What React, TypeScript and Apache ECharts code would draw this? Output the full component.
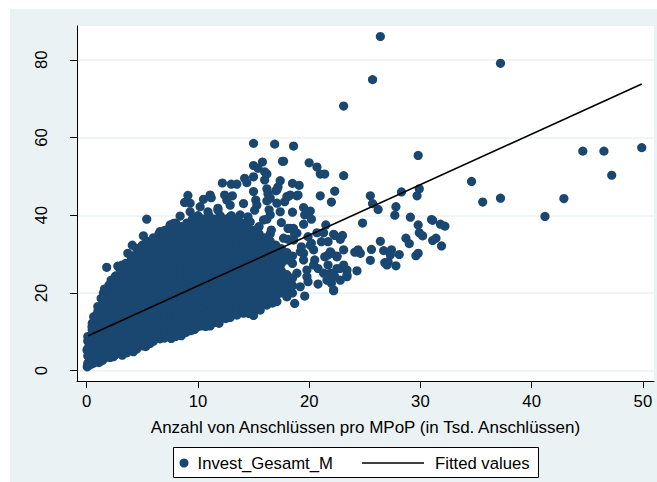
import React, { useEffect, useRef } from "react";
import * as echarts from "echarts";

const xTicks = [0, 10, 20, 30, 40, 50];
const yTicks = [0, 20, 40, 60, 80];
const xTitle = "Anzahl von Anschlüssen pro MPoP (in Tsd. Anschlüssen)";
const scatterName = "Invest_Gesamt_M";
const lineName = "Fitted values";

const fitted = [[0.14, 9.0], [49.9, 73.8]];

const outliers = [
  [26.4, 86.0], [37.2, 79.1], [25.7, 74.9], [23.1, 68.1], [29.8, 55.4], [23.1, 50.2], [34.6, 48.7], [35.6, 43.4],
  [37.2, 44.4], [41.2, 39.7], [42.9, 44.3], [44.6, 56.5], [46.5, 56.5], [47.2, 50.3], [49.9, 57.4],
];

const sparseRight = [
  [22.3, 46.2], [22.0, 43.4], [25.5, 45.0], [25.7, 43.0], [26.2, 41.5], [28.3, 46.0], [29.9, 46.8], [29.7, 45.0],
  [27.8, 42.2], [27.7, 40.0], [29.1, 39.5], [29.8, 37.5], [31.0, 38.9], [31.1, 38.7], [31.8, 37.7], [32.2, 37.2],
  [24.8, 38.0], [29.9, 35.5], [30.2, 34.7], [28.7, 34.1], [29.0, 32.7], [31.4, 34.1], [31.1, 33.5], [31.9, 32.1],
  [26.4, 33.3], [22.3, 34.8], [23.0, 34.8], [22.8, 33.8], [23.1, 31.1], [24.1, 30.5], [24.4, 31.1], [24.6, 30.2],
  [25.6, 31.2], [26.7, 30.9], [27.4, 31.1], [27.3, 29.8], [28.1, 29.9], [29.8, 30.2], [29.6, 29.6], [25.5, 28.4],
  [26.8, 27.8], [27.1, 28.0], [27.0, 27.2], [27.8, 27.0], [24.3, 25.7], [23.4, 25.9], [23.4, 24.2], [23.1, 27.2],
  [22.8, 26.3], [22.5, 29.5], [22.0, 30.2], [22.2, 20.6], [22.0, 22.5], [22.3, 24.2], [21.9, 25.1],
];

const sparseUpper = [
  [17.6, 53.9], [20.0, 53.5], [20.7, 52.4], [21.0, 50.6], [21.4, 50.6], [17.4, 48.9], [18.5, 48.2], [19.1, 47.7],
  [17.1, 46.5], [18.0, 44.8], [18.3, 45.2], [18.9, 45.0], [21.0, 45.0], [17.8, 43.5], [17.1, 43.1], [18.5, 40.8],
  [19.5, 42.0], [20.1, 41.1], [19.6, 40.1], [20.2, 39.0], [19.5, 37.7], [17.4, 40.9], [17.5, 38.1], [21.5, 37.5],
  [18.3, 36.6], [18.6, 36.6], [18.7, 35.2], [20.7, 35.5], [21.3, 35.5], [22.2, 35.1], [17.7, 34.1], [18.1, 33.8],
  [19.9, 34.5], [20.2, 32.8], [21.1, 33.2], [21.7, 33.2], [19.3, 31.9], [19.5, 30.2], [20.4, 31.1], [21.9, 30.6],
  [21.4, 29.3], [20.8, 22.3], [18.7, 17.3], [19.6, 19.2], [22.2, 20.8], [19.2, 21.6], [19.9, 22.9], [21.6, 23.3],
  [22.8, 23.3], [23.4, 24.6], [21.7, 29.8], [22.5, 29.3], [21.7, 27.2], [22.5, 26.3], [20.4, 27.2], [20.8, 26.3],
  [19.8, 24.2], [20.5, 28.5], [21.3, 25.1], [22.2, 25.1], [19.2, 30.6], [20.1, 32.3], [19.5, 28.5], [19.8, 25.9],
  [18.9, 25.1],
];

const peaks = [
  [15.0, 58.5], [16.9, 58.3], [18.6, 57.8], [17.7, 53.9], [15.8, 53.7], [15.0, 52.8], [15.4, 52.1], [16.0, 51.2],
  [16.2, 50.6], [16.0, 49.1], [15.0, 49.9], [14.2, 49.5], [14.4, 48.4], [12.2, 48.3], [13.0, 48.0], [13.5, 48.0],
  [15.0, 46.1], [17.2, 47.3], [17.0, 46.3], [16.2, 46.8], [16.3, 45.5], [16.5, 44.4], [16.2, 43.7], [15.2, 43.9],
  [15.3, 42.6], [15.1, 41.3], [19.0, 45.2], [18.1, 44.8], [16.4, 41.4], [16.5, 40.1], [12.4, 45.2], [13.1, 45.0],
  [12.6, 43.9], [12.9, 42.6], [14.1, 43.0], [9.1, 45.1], [8.8, 43.3], [9.3, 43.1], [9.3, 40.9], [10.5, 44.1],
  [10.2, 42.2], [11.1, 45.2], [11.2, 44.5], [11.8, 41.8], [8.4, 39.8], [5.4, 39.0], [7.5, 37.5], [6.6, 35.8],
  [6.1, 33.6], [15.4, 36.6], [15.9, 38.8], [16.2, 39.0], [18.1, 36.6], [16.6, 36.2], [18.9, 35.4], [18.6, 33.6],
  [14.7, 38.3], [14.5, 39.6], [13.8, 40.1], [12.9, 39.6], [10.9, 40.9], [11.8, 41.3], [5.1, 34.7], [4.1, 32.3],
  [3.7, 30.2], [5.3, 32.8], [2.8, 26.9], [1.8, 26.6], [7.8, 37.9], [9.3, 37.9], [10.2, 39.2],
];

const lowerEdge = [
  [0.05, 1.0], [1.1, 2.1], [2.1, 3.4], [3.2, 4.0], [4.2, 4.9], [5.3, 6.2], [6.6, 8.2], [7.6, 8.3], [8.5, 9.0],
  [9.3, 10.3], [10.3, 11.5], [11.1, 11.5], [11.9, 12.2], [12.9, 13.7], [14.1, 14.8], [15.0, 14.2], [16.2, 16.9],
  [17.1, 17.8],
];

const edgeFill = [
  [0.3, 1.5], [0.6, 1.9], [0.7, 3.2], [1.4, 2.6], [1.7, 3.4], [2.4, 3.6], [2.8, 4.4], [3.6, 4.6], [4.0, 6.0],
  [0.03, 5.3], [0.18, 8.7], [0.48, 11.3], [0.63, 13.9], [1.0, 16.5], [1.3, 18.6], [1.6, 21.0], [2.2, 23.3],
  [2.6, 24.4], [3.2, 27.2], [5.7, 7.0], [6.3, 8.4], [7.0, 8.4], [8.0, 8.8], [8.9, 9.8], [9.7, 10.6], [10.7, 11.4],
  [13.5, 14.3], [14.6, 14.7], [15.6, 15.6], [16.7, 17.4],
];

const denseColumns: [number, number[]][] = [
  [0.1, [1.9, 3.8, 5.7, 7.6, 8.8]],
  [0.5, [2.2, 4.8, 6.7, 8.6, 10.5, 12.2]],
  [1.0, [2.6, 3.8, 5.7, 7.6, 9.5, 11.4, 13.3, 15.2]],
  [1.5, [3.0, 4.8, 6.7, 8.6, 10.5, 12.4, 14.3, 16.2, 18.1, 20]],
  [2.0, [3.8, 5.7, 7.6, 9.5, 11.4, 13.3, 15.2, 17.1, 19, 20.9, 22]],
  [2.5, [4.0, 4.8, 6.7, 8.6, 10.5, 12.4, 14.3, 16.2, 18.1, 20, 21.9, 23.8]],
  [3.0, [4.4, 5.7, 7.6, 9.5, 11.4, 13.3, 15.2, 17.1, 19, 20.9, 22.8, 24.7, 26.2]],
  [3.5, [4.8, 6.7, 8.6, 10.5, 12.4, 14.3, 16.2, 18.1, 20, 21.9, 23.8, 25.7, 27.6]],
  [4.0, [5.7, 7.6, 9.5, 11.4, 13.3, 15.2, 17.1, 19, 20.9, 22.8, 24.7, 26.6, 28.5, 29.6]],
  [4.5, [5.6, 6.7, 8.6, 10.5, 12.4, 14.3, 16.2, 18.1, 20, 21.9, 23.8, 25.7, 27.6, 29.5, 31.4]],
  [5.0, [6.4, 7.6, 9.5, 11.4, 13.3, 15.2, 17.1, 19, 20.9, 22.8, 24.7, 26.6, 28.5, 30.4, 32.3]],
  [5.5, [7.0, 8.6, 10.5, 12.4, 14.3, 16.2, 18.1, 20, 21.9, 23.8, 25.7, 27.6, 29.5, 31.4, 33.3]],
  [6.0, [7.6, 9.5, 11.4, 13.3, 15.2, 17.1, 19, 20.9, 22.8, 24.7, 26.6, 28.5, 30.4, 32.3, 34.2]],
  [6.5, [8.6, 10.5, 12.4, 14.3, 16.2, 18.1, 20, 21.9, 23.8, 25.7, 27.6, 29.5, 31.4, 33.3, 35.2]],
  [7.0, [8.6, 9.5, 11.4, 13.3, 15.2, 17.1, 19, 20.9, 22.8, 24.7, 26.6, 28.5, 30.4, 32.3, 34.2, 36.1]],
  [7.5, [8.6, 10.5, 12.4, 14.3, 16.2, 18.1, 20, 21.9, 23.8, 25.7, 27.6, 29.5, 31.4, 33.3, 35.2, 37.1]],
  [8.0, [9.5, 11.4, 13.3, 15.2, 17.1, 19, 20.9, 22.8, 24.7, 26.6, 28.5, 30.4, 32.3, 34.2, 36.1, 38]],
  [8.5, [9.4, 10.5, 12.4, 14.3, 16.2, 18.1, 20, 21.9, 23.8, 25.7, 27.6, 29.5, 31.4, 33.3, 35.2, 37.1]],
  [9.0, [10.2, 11.4, 13.3, 15.2, 17.1, 19, 20.9, 22.8, 24.7, 26.6, 28.5, 30.4, 32.3, 34.2, 36.1, 38]],
  [9.5, [10.5, 12.4, 14.3, 16.2, 18.1, 20, 21.9, 23.8, 25.7, 27.6, 29.5, 31.4, 33.3, 35.2, 37.1, 39]],
  [10.0, [11.4, 13.3, 15.2, 17.1, 19, 20.9, 22.8, 24.7, 26.6, 28.5, 30.4, 32.3, 34.2, 36.1, 38, 39.9]],
  [10.5, [12.4, 14.3, 16.2, 18.1, 20, 21.9, 23.8, 25.7, 27.6, 29.5, 31.4, 33.3, 35.2, 37.1, 39]],
  [11.0, [12, 13.3, 15.2, 17.1, 19, 20.9, 22.8, 24.7, 26.6, 28.5, 30.4, 32.3, 34.2, 36.1, 38, 39.9]],
  [11.5, [12.4, 14.3, 16.2, 18.1, 20, 21.9, 23.8, 25.7, 27.6, 29.5, 31.4, 33.3, 35.2, 37.1, 39]],
  [12.0, [13.3, 15.2, 17.1, 19, 20.9, 22.8, 24.7, 26.6, 28.5, 30.4, 32.3, 34.2, 36.1, 38, 39.9]],
  [12.5, [13.4, 14.3, 16.2, 18.1, 20, 21.9, 23.8, 25.7, 27.6, 29.5, 31.4, 33.3, 35.2, 37.1, 39]],
  [13.0, [14.2, 15.2, 17.1, 19, 20.9, 22.8, 24.7, 26.6, 28.5, 30.4, 32.3, 34.2, 36.1, 38, 39.9]],
  [13.5, [14.8, 16.2, 18.1, 20, 21.9, 23.8, 25.7, 27.6, 29.5, 31.4, 33.3, 35.2, 37.1, 39]],
  [14.0, [15.2, 17.1, 19, 20.9, 22.8, 24.7, 26.6, 28.5, 30.4, 32.3, 34.2, 36.1, 38]],
  [14.5, [15.2, 16.2, 18.1, 20, 21.9, 23.8, 25.7, 27.6, 29.5, 31.4, 33.3, 35.2, 37.1]],
  [15.0, [15.2, 17.1, 19, 20.9, 22.8, 24.7, 26.6, 28.5, 30.4, 32.3, 34.2, 36.1]],
  [15.5, [16.2, 18.1, 20, 21.9, 23.8, 25.7, 27.6, 29.5, 31.4, 33.3, 35.2, 37.1]],
  [16.0, [17.1, 19, 20.9, 22.8, 24.7, 26.6, 28.5, 30.4, 32.3, 34.2]],
  [16.5, [18.1, 20, 21.9, 23.8, 25.7, 27.6, 29.5, 31.4, 33.3, 35.2]],
  [17.0, [19, 20.9, 22.8, 24.7, 26.6, 28.5, 30.4, 32.3]],
  [17.5, [20, 21.9, 23.8, 25.7, 27.6, 29.5, 31.4]],
  [18.0, [19, 20.9, 22.8, 24.7, 28.5, 30.4]],
  [18.5, [20, 21.9, 23.8, 27.6, 29.5]],
];

const denseCloud = denseColumns.flatMap(([x, ys]) => ys.map((y) => [x, y]));
const scatterData = [...denseCloud, ...lowerEdge, ...edgeFill, ...peaks, ...sparseUpper, ...sparseRight, ...outliers];

const NAVY = "#1a476f";
const BG = "#eaf2f3";
const FONT = "Liberation Sans";

export default function App() {
  const ref = useRef<HTMLDivElement>(null);
  useEffect(() => {
    const chart = echarts.init(ref.current!, undefined, { renderer: "svg" });
    chart.setOption({
      animation: false,
      backgroundColor: "#ffffff",
      textStyle: { fontFamily: FONT },
      graphic: [
        { type: "rect", z: -10, shape: { x: 10, y: 9, width: 647, height: 473 }, style: { fill: BG } },
        { type: "rect", z: 3, shape: { x: 173.5, y: 447.5, width: 365, height: 30 }, style: { fill: "#ffffff", stroke: "#000000", lineWidth: 1 } },
      ],
      grid: { left: 77, top: 26, right: 3, bottom: 101, show: true, backgroundColor: "#ffffff", borderWidth: 0 },
      xAxis: {
        type: "value",
        min: -0.87,
        max: 51,
        axisLine: { show: true, onZero: false, lineStyle: { color: "#000000", width: 1 } },
        axisTick: { show: true, length: 7, lineStyle: { color: "#000000", width: 1 }, customValues: xTicks },
        axisLabel: { customValues: xTicks, color: "#000000", fontSize: 16.7, margin: 12, fontFamily: FONT },
        splitLine: { show: false },
        name: xTitle,
        nameLocation: "middle",
        nameGap: 38,
        nameTextStyle: { color: "#000000", fontSize: 17, fontFamily: FONT },
      },
      yAxis: {
        type: "value",
        min: -2.65,
        max: 88.7,
        axisLine: { show: true, onZero: false, lineStyle: { color: "#000000", width: 1 } },
        axisTick: { show: true, length: 7, lineStyle: { color: "#000000", width: 1 }, customValues: yTicks },
        axisLabel: { customValues: yTicks, color: "#000000", fontSize: 16.7, margin: 27, rotate: 90, fontFamily: FONT, align: "center", verticalAlign: "bottom" },
        splitLine: { show: true, lineStyle: { color: BG, width: 1.5 } },
      },
      legend: [
        {
          data: [scatterName],
          left: 179.5,
          top: 454.5,
          itemWidth: 9,
          itemHeight: 9,
          itemGap: 0,
          padding: 0,
          textStyle: { color: "#000000", fontSize: 16.7, fontFamily: FONT, padding: [0, 0, 0, 4] },
          z: 5,
        },
        {
          data: [{ name: lineName, icon: "rect" }],
          left: 362,
          top: 454.5,
          itemWidth: 62,
          itemHeight: 1.5,
          padding: 0,
          textStyle: { color: "#000000", fontSize: 16.7, fontFamily: FONT, padding: [0, 0, 0, 6] },
          z: 5,
        },
      ],
      series: [
        {
          name: scatterName,
          type: "scatter",
          data: scatterData,
          symbol: "circle",
          symbolSize: 9.2,
          itemStyle: { color: NAVY, opacity: 1 },
          silent: true,
        },
        {
          name: lineName,
          type: "line",
          data: fitted,
          showSymbol: false,
          symbol: "none",
          z: 4,
          lineStyle: { color: "#000000", width: 1.6 },
          itemStyle: { color: "#000000" },
          silent: true,
        },
      ],
    });
    return () => chart.dispose();
  }, []);
  return <div ref={ref} style={{ position: "fixed", left: 0, top: 0, width: 657, height: 482 }} />;
}
